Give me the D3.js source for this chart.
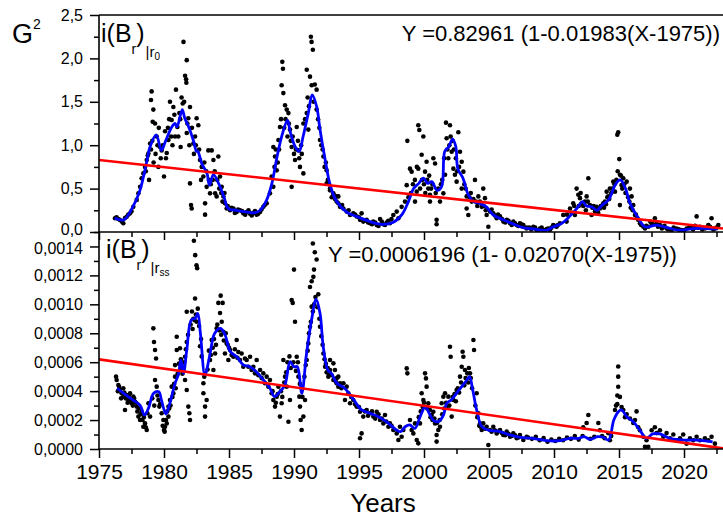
<!DOCTYPE html>
<html>
<head>
<meta charset="utf-8">
<script src="https://cdn.jsdelivr.net/npm/d3@7"></script>
<style>
  html, body { margin: 0; padding: 0; background: #fff; }
  svg { display: block; font-family: "Liberation Sans", Arial, sans-serif; }
</style>
</head>
<body>
<svg id="chart" width="723" height="519"></svg>
<script>
// ---- data: i(Br)|r0 (upper panel) ----
const topDots = [
  [1976.23,0.158],[1976.35,0.17],[1976.49,0.15],[1976.6,0.14],[1976.75,0.12],[1976.87,0.10],[1977.0,0.16],
  [1977.13,0.176],[1977.25,0.2],[1977.39,0.215],[1977.5,0.24],[1977.64,0.29],[1977.9,0.37],[1978.03,0.445],
  [1978.16,0.52],[1978.28,0.62],[1978.41,0.675],[1978.54,0.75],[1978.67,0.83],[1978.8,0.905],[1978.93,1.02],
  [1979.0,1.52],[1979.05,1.62],[1979.13,1.27],[1979.18,1.41],[1979.31,1.25],[1979.44,1.10],[1979.57,0.75],
  [1979.69,0.98],[1979.82,0.94],[1980.0,0.64],[1980.08,1.16],[1980.21,0.91],[1980.34,1.06],[1980.46,1.50],
  [1980.59,1.29],[1980.72,1.44],[1980.85,1.10],[1980.92,1.64],[1981.03,1.21],[1981.18,1.37],[1981.28,0.98],
  [1981.44,1.48],[1981.5,2.19],[1981.62,1.80],[1981.7,1.76],[1981.72,1.72],[1981.75,1.98],[1981.75,1.14],
  [1981.87,1.31],[1982.0,1.44],[1982.08,0.31],[1982.13,0.27],[1982.0,0.56],[1982.26,1.02],[1982.39,1.10],
  [1982.51,1.31],[1982.64,1.23],[1982.77,0.83],[1982.9,0.75],[1983.03,0.64],[1983.16,0.33],[1983.16,0.20],
  [1983.28,0.52],[1983.41,0.94],[1983.54,0.445],[1983.67,0.94],[1983.8,0.83],[1983.93,0.445],[1984.05,0.41],
  [1984.18,0.87],[1984.31,0.64],[1984.44,0.52],[1984.57,0.41],[1984.69,0.33],[1984.82,0.27],[1985.08,0.25],
  [1978.6,0.7],[1978.75,0.88],[1978.85,0.6],[1979.0,0.95],[1979.1,1.05],[1979.2,0.8],[1979.35,0.9],
  [1979.5,1.0],[1979.6,1.2],[1979.75,0.85],[1979.9,1.0],[1980.15,0.85],[1980.3,1.2],[1980.4,1.3],
  [1980.55,1.1],[1980.65,1.0],[1980.8,1.35],[1981.1,1.1],[1981.25,1.3],[1981.35,1.55],[1981.55,1.5],
  [1981.8,1.25],[1981.95,1.0],[1982.15,1.2],[1982.3,0.9],[1982.45,1.0],[1982.7,0.95],[1982.85,0.6],
  [1983.1,0.8],[1983.25,0.7],[1983.45,0.6],[1983.6,0.55],[1983.75,0.6],[1983.9,0.7],[1984.1,0.6],
  [1984.25,0.5],[1984.4,0.45],[1984.5,0.35],[1984.65,0.45],[1984.9,0.3],
  [1985.2,0.28],[1985.34,0.27],[1985.45,0.22],[1985.59,0.23],[1985.7,0.26],[1985.85,0.25],[1986.0,0.24],
  [1986.1,0.215],[1986.25,0.2],[1986.36,0.23],[1986.5,0.25],[1986.62,0.21],[1986.75,0.19],[1986.87,0.22],
  [1987.0,0.24],[1987.13,0.20],[1987.25,0.21],[1987.39,0.23],[1987.5,0.26],[1987.64,0.29],[1987.75,0.31],
  [1987.9,0.33],[1988.15,0.445],[1988.28,0.64],[1988.41,0.52],[1988.41,0.98],[1988.54,0.87],[1988.67,0.71],
  [1988.8,1.06],[1988.92,1.21],[1989.05,1.69],[1989.1,1.96],[1989.15,1.88],[1989.18,1.60],[1989.31,1.46],
  [1989.44,1.41],[1989.57,1.37],[1989.69,1.18],[1989.82,0.98],[1989.82,0.52],[1990.08,0.83],[1990.21,1.21],
  [1990.34,0.94],[1990.46,0.75],[1990.72,0.675],[1990.72,1.25],[1990.98,1.37],[1990.98,1.87],[1991.1,1.18],
  [1991.23,1.79],[1991.3,2.25],[1991.35,2.19],[1991.36,1.69],[1991.45,2.1],[1991.74,1.64],[1991.74,1.41],
  [1992.0,1.06],[1992.26,0.87],[1992.51,0.71],[1992.51,0.56],[1992.77,0.48],[1992.77,0.50],[1993.03,0.445],
  [1988.5,0.75],[1988.6,0.95],[1988.75,0.8],[1988.85,0.95],[1989.0,1.3],[1989.25,1.2],[1989.35,1.3],
  [1989.5,1.1],[1989.6,1.25],[1989.75,1.05],[1989.9,1.1],[1990.0,0.9],[1990.15,0.95],[1990.3,1.05],
  [1990.4,0.85],[1990.55,1.0],[1990.6,0.9],[1990.85,1.3],[1991.05,1.55],[1991.15,1.45],[1991.5,1.5],
  [1991.6,1.7],[1991.85,1.3],[1991.95,1.2],[1992.1,1.0],[1992.2,0.95],[1992.35,0.75],[1992.45,0.8],
  [1992.6,0.6],[1992.7,0.55],[1992.9,0.4],[1993.15,0.38],
  [1993.03,0.43],[1993.28,0.41],[1993.28,0.35],[1993.41,0.33],[1993.41,0.41],[1993.54,0.29],[1993.7,0.31],
  [1993.8,0.27],[1994.05,0.235],[1994.2,0.25],[1994.31,0.196],[1994.56,0.215],[1994.7,0.2],[1994.82,0.18],
  [1995.0,0.17],[1995.08,0.14],[1995.2,0.215],[1995.33,0.12],[1995.45,0.13],[1995.59,0.14],[1995.7,0.11],
  [1995.85,0.10],[1996.0,0.09],[1996.1,0.12],[1996.25,0.11],[1996.36,0.08],[1996.5,0.07],[1996.62,0.15],
  [1996.75,0.12],[1996.87,0.09],[1997.0,0.08],[1997.13,0.11],[1997.25,0.13],[1997.38,0.10],[1997.5,0.15],
  [1997.64,0.196],[1997.9,0.235],[1998.03,0.158],[1998.28,0.29],[1998.54,0.35],[1998.67,0.54],[1998.72,1.05],
  [1998.92,0.73],[1999.05,0.695],[1999.31,0.35],[1999.44,0.465],[1999.56,1.23],[1999.64,1.175],[1999.56,0.73],
  [1999.82,0.89],[1999.95,1.10],[2000.08,0.695],[2000.2,0.81],[2000.33,0.50],[2000.46,0.43],[2000.46,0.35],
  [2000.72,0.85],[2000.85,0.79],[2000.97,0.14],[2000.97,0.09],[2001.23,0.35],[2001.49,0.445],[2001.62,0.66],
  [2001.69,1.26],[2001.74,1.08],[2001.87,0.85],[2002.0,1.23],[2002.13,0.925],[2002.26,0.73],[2002.38,0.66],
  [2002.51,0.58],[2002.64,1.15],[2002.77,0.925],[2002.9,0.81],[2002.9,0.50],[2003.03,0.695],[2003.28,0.41],
  [2003.28,0.27],[2003.41,0.196],[2003.67,0.35],[2003.92,0.60],[2004.18,0.41],[2004.44,0.29],[2004.56,0.50],
  [2004.69,0.39],[2004.82,0.196],[2004.95,0.06],[2005.08,0.235],[2005.2,0.26],[2005.33,0.215],[2005.45,0.19],
  [1998.8,0.4],[1999.0,0.45],[1999.15,0.55],[1999.3,0.6],[1999.45,0.75],[1999.7,0.5],[1999.85,0.6],
  [2000.0,0.55],[2000.1,0.45],[2000.25,0.6],[2000.4,0.65],[2000.55,0.5],[2000.65,0.55],[2000.9,0.45],
  [2001.1,0.5],[2001.3,0.55],[2001.4,0.6],[2001.55,0.85],[2001.8,0.95],[2001.95,1.0],[2002.05,1.1],
  [2002.2,1.05],[2002.3,0.95],[2002.45,0.85],[2002.55,0.7],[2002.7,0.75],[2003.1,0.55],[2003.2,0.5],
  [2003.5,0.4],[2003.6,0.45],[2003.8,0.38],[2004.0,0.35],[2004.1,0.3],[2004.3,0.35],[2004.6,0.3],[2004.75,0.25],
  [2005.59,0.158],[2005.7,0.2],[2005.85,0.18],[2006.0,0.15],[2006.1,0.12],[2006.25,0.11],[2006.36,0.14],
  [2006.5,0.13],[2006.62,0.10],[2006.75,0.08],[2006.87,0.12],[2007.0,0.1],[2007.13,0.08],[2007.25,0.07],
  [2007.38,0.10],[2007.5,0.09],[2007.64,0.06],[2007.64,0.08],[2007.89,0.04],[2007.9,0.05],[2008.1,0.05],
  [2008.25,0.03],[2008.41,0.06],[2008.55,0.05],[2008.66,0.023],[2008.8,0.02],[2008.92,0.04],[2009.05,0.05],
  [2009.17,0.023],[2009.3,0.02],[2009.43,0.035],[2009.55,0.04],[2009.69,0.023],[2009.8,0.05],[2009.94,0.08],
  [2010.05,0.07],[2010.2,0.06],[2010.3,0.08],[2010.46,0.10],[2010.71,0.196],[2010.97,0.12],[2011.23,0.27],
  [2011.48,0.33],[2011.61,0.196],[2011.74,0.50],[2011.87,0.43],[2012.0,0.39],[2012.12,0.33],[2012.38,0.35],
  [2012.51,0.41],[2012.64,0.62],[2012.76,0.31],[2012.89,0.196],[2013.15,0.235],[2013.28,0.29],[2013.53,0.27],
  [2013.79,0.33],[2013.92,0.35],[2014.05,0.465],[2014.17,0.41],[2014.3,0.50],[2014.56,0.58],[2014.69,0.465],
  [2014.87,1.12],[2014.94,1.15],[2015.02,0.84],[2015.07,0.66],[2015.07,0.31],[2015.2,0.54],[2015.33,0.62],
  [2015.59,0.58],[2015.84,0.50],[2015.97,0.41],[2016.1,0.31],[2016.23,0.196],[2016.48,0.14],[2016.61,0.10],
  [2011.0,0.2],[2011.35,0.22],[2011.55,0.3],[2011.9,0.3],[2012.05,0.45],[2012.25,0.3],[2012.45,0.25],
  [2012.6,0.35],[2012.95,0.28],[2013.05,0.3],[2013.4,0.22],[2013.6,0.3],[2013.85,0.28],[2014.0,0.32],
  [2014.1,0.4],[2014.25,0.38],[2014.4,0.45],[2014.5,0.5],[2014.65,0.55],[2014.8,0.6],[2014.9,0.7],
  [2015.15,0.65],[2015.25,0.5],[2015.4,0.55],[2015.5,0.45],[2015.7,0.4],[2015.8,0.35],[2015.9,0.28],
  [2016.05,0.25],[2016.3,0.2],[2016.4,0.16],[2016.7,0.08],
  [2016.87,0.06],[2017.0,0.04],[2017.1,0.07],[2017.25,0.06],[2017.4,0.12],[2017.51,0.10],[2017.6,0.09],
  [2017.76,0.158],[2017.89,0.10],[2018.0,0.06],[2018.15,0.08],[2018.3,0.04],[2018.41,0.06],[2018.5,0.07],
  [2018.66,0.04],[2018.8,0.03],[2019.05,0.023],[2019.2,0.05],[2019.43,0.04],[2019.6,0.03],[2019.82,0.023],
  [2020.0,0.02],[2020.2,0.04],[2020.4,0.05],[2020.58,0.06],[2020.7,0.03],[2020.85,0.07],[2020.97,0.18],
  [2021.1,0.05],[2021.23,0.06],[2021.4,0.03],[2021.61,0.04],[2021.75,0.05],[2021.87,0.08],[2022.0,0.06],
  [2022.12,0.158],[2022.25,0.03],[2022.38,0.04],[2022.5,0.05],[2022.64,0.08]
];
const topSmooth = [
  [1976.2,0.16],[1976.9,0.14],[1977.6,0.29],[1978.15,0.48],[1978.7,0.83],[1978.9,0.97],[1979.4,1.12],
  [1979.8,0.94],[1980.1,1.04],[1980.6,1.21],[1980.85,1.25],[1981.0,1.21],[1981.4,1.41],[1981.6,1.31],
  [1981.9,1.21],[1982.25,1.06],[1982.5,0.93],[1982.6,0.93],[1982.9,0.79],[1983.3,0.68],[1983.5,0.54],
  [1983.8,0.66],[1984.2,0.56],[1984.6,0.41],[1984.95,0.27],[1985.6,0.25],[1986.4,0.23],[1986.9,0.22],
  [1987.4,0.25],[1987.9,0.37],[1988.3,0.56],[1988.7,0.87],[1989.05,1.10],[1989.5,1.29],[1989.7,1.16],
  [1990.1,0.98],[1990.4,0.93],[1990.7,1.10],[1991.1,1.37],[1991.4,1.58],[1991.75,1.44],[1992.0,1.18],
  [1992.4,0.83],[1992.8,0.53],[1993.3,0.35],[1994.05,0.23],[1994.8,0.18],[1995.85,0.12],[1996.6,0.09],
  [1997.6,0.11],[1998.3,0.20],[1998.8,0.35],[1999.2,0.50],[1999.6,0.56],[1999.95,0.62],[2000.3,0.56],
  [2000.6,0.58],[2001.0,0.48],[2001.35,0.52],[2001.6,0.93],[2001.9,0.98],[2002.2,1.07],[2002.45,0.98],
  [2002.6,0.73],[2003.0,0.62],[2003.4,0.43],[2003.8,0.35],[2004.3,0.33],[2004.8,0.29],[2005.3,0.20],
  [2006.1,0.14],[2006.9,0.09],[2007.6,0.05],[2008.4,0.035],[2009.4,0.02],[2009.95,0.06],[2010.6,0.10],
  [2011.2,0.18],[2011.75,0.27],[2012.2,0.35],[2012.5,0.30],[2012.9,0.29],[2013.3,0.25],[2013.7,0.31],
  [2014.2,0.37],[2014.7,0.54],[2015.1,0.60],[2015.5,0.50],[2015.85,0.33],[2016.4,0.18],[2017.0,0.06],
  [2017.9,0.08],[2018.7,0.05],[2019.7,0.02],[2020.7,0.04],[2021.7,0.04],[2022.6,0.035]
];

// ---- data: i(Br)|rss (lower panel) ----
const bottomDots = [
  [1976.31,5.0e-4],[1976.36,4.77e-4],[1976.49,4.42e-4],[1976.62,4.08e-4],[1976.74,3.85e-4],[1976.87,3.62e-4],
  [1976.87,4.2e-4],[1977.0,2.7e-4],[1977.13,3.73e-4],[1977.26,3.39e-4],[1977.39,3.85e-4],[1977.51,3.16e-4],
  [1977.64,3.62e-4],[1977.77,3.27e-4],[1977.9,2.93e-4],[1978.03,2.24e-4],[1978.16,2.0e-4],[1978.28,2.58e-4],
  [1978.41,1.54e-4],[1978.54,1.77e-4],[1978.67,1.31e-4],[1978.72,2.47e-4],[1978.8,3.16e-4],[1978.93,2.24e-4],
  [1976.45,4.0e-4],[1976.55,4.3e-4],[1976.7,3.5e-4],[1976.95,3.9e-4],[1977.05,3.5e-4],[1977.2,3.2e-4],
  [1977.3,3.7e-4],[1977.45,3.3e-4],[1977.6,3.0e-4],[1977.7,3.5e-4],[1977.85,3.2e-4],[1977.95,2.6e-4],
  [1978.1,2.8e-4],[1978.2,2.4e-4],[1978.35,2.0e-4],[1978.45,2.2e-4],[1978.6,1.5e-4],
  [1979.18,8.34e-4],[1979.23,7.4e-4],[1979.31,6.84e-4],[1979.39,6.26e-4],[1979.31,4.77e-4],[1979.44,4.31e-4],
  [1979.57,3.39e-4],[1979.64,2.93e-4],[1979.82,2.47e-4],[1979.95,2.0e-4],[1980.0,1.31e-4],[1980.08,1.54e-4],
  [1980.21,1.77e-4],[1980.34,2.24e-4],[1980.34,2.93e-4],[1980.46,3.39e-4],[1980.59,4.31e-4],[1980.72,3.85e-4],
  [1980.85,5.0e-4],[1980.85,5.8e-4],[1980.98,6.84e-4],[1980.98,7.76e-4],[1981.23,6.96e-4],[1981.36,5.57e-4],
  [1981.49,5.69e-4],[1981.62,6.38e-4],[1981.75,7.4e-4],[1981.62,4.77e-4],[1981.75,4.08e-4],[1981.87,2.93e-4],
  [1981.95,2.47e-4],[1982.0,2.0e-4],[1981.75,9.49e-4],[1982.26,9.0e-4],[1982.39,10.4e-4],[1982.3,14.4e-4],
  [1982.4,13.4e-4],[1982.5,12.7e-4],[1982.55,12.5e-4],[1982.51,8.8e-4],[1982.77,7.1e-4],[1982.9,6.4e-4],
  [1979.1,3.5e-4],[1979.25,3.0e-4],[1979.5,3.7e-4],[1979.7,3.1e-4],[1979.9,1.6e-4],[1980.05,1.2e-4],
  [1980.15,2.0e-4],[1980.25,2.6e-4],[1980.4,2.8e-4],[1980.5,3.0e-4],[1980.65,3.6e-4],[1980.78,4.5e-4],
  [1980.9,4.2e-4],[1981.05,5.2e-4],[1981.15,5.9e-4],[1981.3,6.2e-4],[1981.42,5.2e-4],[1981.55,6.0e-4],
  [1981.68,6.9e-4],[1981.85,7.9e-4],[1982.05,8.6e-4],[1982.15,9.5e-4],[1982.2,8.3e-4],[1982.35,8.9e-4],
  [1982.45,9.3e-4],[1982.6,9.7e-4],[1982.7,8.5e-4],[1982.85,7.6e-4],
  [1983.03,3.85e-4],[1983.16,2.93e-4],[1983.16,2.24e-4],[1983.03,4.54e-4],[1983.28,3.39e-4],[1983.54,6.15e-4],
  [1983.67,7.53e-4],[1983.8,5.46e-4],[1983.93,6.6e-4],[1984.05,8.34e-4],[1984.18,10.1e-4],[1984.36,10.6e-4],
  [1984.51,10.1e-4],[1984.31,9.4e-4],[1984.44,8.8e-4],[1984.57,8.1e-4],[1984.69,6.6e-4],[1984.82,7.3e-4],
  [1984.95,6.15e-4],[1985.08,6.84e-4],[1985.34,6.38e-4],[1985.59,7.53e-4],[1985.72,6.7e-4],[1985.85,6.15e-4],
  [1983.1,5.0e-4],[1983.35,5.5e-4],[1983.45,6.8e-4],[1983.6,6.5e-4],[1983.75,7.0e-4],[1983.85,7.6e-4],
  [1984.0,7.2e-4],[1984.1,8.6e-4],[1984.25,8.2e-4],[1984.4,7.9e-4],[1984.6,7.5e-4],[1984.75,8.0e-4],
  [1984.9,7.2e-4],[1985.0,7.0e-4],[1985.2,6.5e-4],[1985.45,6.9e-4],[1985.65,6.3e-4],
  [1985.97,6.6e-4],[1986.1,5.69e-4],[1986.23,6.26e-4],[1986.36,6.15e-4],[1986.49,5.69e-4],[1986.62,6.38e-4],
  [1986.74,5.46e-4],[1986.87,5.69e-4],[1987.0,5.23e-4],[1987.13,6.15e-4],[1987.26,5.1e-4],[1987.39,5.46e-4],
  [1987.51,4.9e-4],[1987.64,5.23e-4],[1987.77,4.54e-4],[1987.9,5.0e-4],[1988.03,4.31e-4],[1988.15,4.77e-4],
  [1988.28,3.85e-4],[1988.41,3.39e-4],[1988.54,2.93e-4],[1988.67,3.62e-4],[1988.8,4.31e-4],[1988.92,2.24e-4],
  [1989.05,3.16e-4],[1989.18,6.15e-4],[1989.31,5.0e-4],[1989.44,4.31e-4],[1989.57,1.88e-4],[1989.69,3.39e-4],
  [1989.82,10.3e-4],[1989.9,10.1e-4],[1990.0,12.4e-4],[1990.08,8.8e-4],[1990.21,6.38e-4],[1990.34,5.0e-4],
  [1990.41,3.62e-4],[1990.46,2.93e-4],[1990.51,2.0e-4],[1990.59,1.31e-4],[1990.72,2.24e-4],[1990.85,3.39e-4],
  [1990.98,6.15e-4],[1991.1,7.3e-4],[1991.23,8.45e-4],[1991.36,9.84e-4],[1991.23,11.2e-4],[1991.36,11.6e-4],
  [1991.49,11.9e-4],[1991.54,12.4e-4],[1991.74,13.1e-4],[1991.45,14.2e-4],[1991.6,13.6e-4],[1991.87,10.7e-4],
  [1992.0,8.45e-4],[1992.26,6.6e-4],[1992.39,5.69e-4],[1992.51,5.3e-4],[1992.64,5.0e-4],[1992.77,5.46e-4],
  [1988.35,4.0e-4],[1988.6,3.2e-4],[1988.75,3.8e-4],[1989.0,4.0e-4],[1989.1,3.6e-4],[1989.25,4.6e-4],
  [1989.4,5.3e-4],[1989.5,6.0e-4],[1989.65,6.4e-4],[1989.75,5.6e-4],[1989.95,6.0e-4],[1990.15,5.4e-4],
  [1990.3,6.0e-4],[1990.45,4.5e-4],[1990.65,3.6e-4],[1990.8,5.0e-4],[1990.9,5.8e-4],[1991.05,6.8e-4],
  [1991.15,8.0e-4],[1991.3,8.8e-4],[1991.45,9.5e-4],[1991.55,10.0e-4],[1991.65,10.5e-4],[1991.8,9.8e-4],
  [1991.95,9.0e-4],[1992.1,7.8e-4],[1992.2,7.2e-4],[1992.35,6.2e-4],[1992.45,5.9e-4],[1992.6,5.6e-4],
  [1992.7,5.2e-4],[1992.9,5.1e-4],[1993.2,4.7e-4],
  [1992.77,6.15e-4],[1993.03,5.92e-4],[1993.03,4.77e-4],[1993.15,5.46e-4],[1993.28,4.54e-4],[1993.3,4.9e-4],
  [1993.41,5.0e-4],[1993.41,4.31e-4],[1993.54,4.54e-4],[1993.65,4.2e-4],[1993.8,4.54e-4],[1993.92,3.39e-4],
  [1994.05,4.31e-4],[1994.18,3.85e-4],[1994.31,3.16e-4],[1994.4,3.6e-4],[1994.56,3.39e-4],[1994.7,3.1e-4],
  [1994.82,2.93e-4],[1995.0,2.9e-4],[1995.08,2.58e-4],[1995.2,1.08e-4],[1995.08,0.74e-4],[1995.33,2.24e-4],
  [1995.45,2.6e-4],[1995.59,2.7e-4],[1995.7,2.3e-4],[1995.85,2.47e-4],[1996.0,2.6e-4],[1996.1,2.24e-4],
  [1996.25,2.1e-4],[1996.36,2.58e-4],[1996.5,2.4e-4],[1996.62,2.0e-4],[1996.75,2.1e-4],[1996.87,1.77e-4],
  [1997.0,2.35e-4],[1997.1,1.9e-4],[1997.26,1.54e-4],[1997.38,1.77e-4],[1997.5,1.6e-4],[1997.64,1.31e-4],
  [1997.9,1.08e-4],[1998.03,0.62e-4],[1998.15,1.54e-4],[1998.28,0.85e-4],[1998.41,1.31e-4],[1998.67,5.57e-4],
  [1998.72,5.23e-4],[1998.92,2.0e-4],[1999.05,1.31e-4],[1999.18,1.08e-4],[1999.31,1.77e-4],[1999.44,0.62e-4],
  [1999.56,0.39e-4],[1999.69,1.77e-4],[1999.82,3.85e-4],[1999.95,3.39e-4],[2000.08,5.23e-4],[2000.15,4.88e-4],
  [2000.2,4.31e-4],[2000.33,3.16e-4],[2000.46,2.7e-4],[2000.59,2.35e-4],[2000.72,2.58e-4],[2000.85,1.77e-4],
  [2000.97,0.51e-4],[2000.97,0.97e-4],[2001.1,1.31e-4],[2001.23,1.54e-4],[2001.36,3.16e-4],[2001.49,3.62e-4],
  [2001.62,3.85e-4],[2001.74,2.93e-4],[2001.87,3.62e-4],[2002.0,7.07e-4],[2002.05,6.38e-4],[2002.13,2.24e-4],
  [2002.26,3.39e-4],[2002.51,4.08e-4],[2002.77,5.0e-4],[2002.97,6.72e-4],[2003.03,6.38e-4],[2002.9,5.69e-4],
  [2003.15,5.46e-4],[2003.33,5.23e-4],[2003.54,5.23e-4],[2003.8,7.53e-4],[2003.85,6.84e-4],[2004.05,3.85e-4],
  [2004.18,2.47e-4],[2004.31,1.77e-4],[2004.44,1.31e-4],[2004.56,1.77e-4],[2004.82,1.54e-4],[2004.95,0.28e-4],
  [1999.6,2.2e-4],[1999.75,2.6e-4],[1999.9,2.9e-4],[2000.0,3.2e-4],[2000.25,2.8e-4],[2000.5,2.2e-4],
  [2000.65,2.0e-4],[2000.8,2.1e-4],[2001.0,1.8e-4],[2001.2,2.0e-4],[2001.4,2.4e-4],[2001.55,2.8e-4],
  [2001.7,3.2e-4],[2001.95,3.0e-4],[2002.2,3.6e-4],[2002.35,3.8e-4],[2002.45,3.3e-4],[2002.6,4.2e-4],
  [2002.7,3.9e-4],[2002.85,4.6e-4],[2003.1,4.4e-4],[2003.2,4.9e-4],[2003.4,4.6e-4],[2003.45,5.6e-4],
  [2003.6,4.9e-4],[2003.7,4.2e-4],[2003.95,3.0e-4],[2004.1,2.2e-4],[2004.25,1.6e-4],[2004.4,1.5e-4],[2004.7,1.4e-4],
  [2005.08,1.31e-4],[2005.2,1.2e-4],[2005.33,1.54e-4],[2005.45,1.3e-4],[2005.59,1.08e-4],[2005.7,1.2e-4],
  [2005.85,1.31e-4],[2006.0,1.1e-4],[2006.1,0.97e-4],[2006.25,0.95e-4],[2006.36,1.2e-4],[2006.5,1.05e-4],
  [2006.62,0.85e-4],[2006.75,0.9e-4],[2006.87,1.08e-4],[2007.0,0.95e-4],[2007.13,0.74e-4],[2007.25,0.8e-4],
  [2007.38,0.97e-4],[2007.64,0.62e-4],[2007.9,0.85e-4],[2008.0,0.8e-4],[2008.3,0.7e-4],[2008.6,0.85e-4],
  [2008.9,0.6e-4],[2009.2,0.75e-4],[2009.5,0.5e-4],[2009.8,0.65e-4],[2010.1,0.55e-4],[2010.4,0.7e-4],
  [2010.7,0.6e-4],[2011.0,0.8e-4],[2011.3,0.7e-4],[2011.6,0.9e-4],[2011.9,0.65e-4],[2012.2,0.9e-4],
  [2012.25,1.5e-4],[2012.51,1.8e-4],[2012.64,2.35e-4],[2012.8,0.7e-4],[2013.1,0.85e-4],[2013.41,1.8e-4],
  [2013.53,1.3e-4],[2013.7,0.9e-4],[2013.9,0.75e-4],[2014.17,1.1e-4],[2014.3,0.6e-4],[2014.4,0.9e-4],
  [2014.69,2.7e-4],[2014.77,3.0e-4],[2014.87,3.7e-4],[2014.87,3.1e-4],[2014.94,4.3e-4],[2014.94,5.0e-4],
  [2014.94,5.7e-4],[2015.07,3.6e-4],[2015.2,2.9e-4],[2015.33,2.7e-4],[2015.46,2.2e-4],[2015.59,2.4e-4],
  [2015.84,2.1e-4],[2016.1,1.8e-4],[2016.23,2.0e-4],[2016.35,2.6e-4],[2016.48,1.5e-4],[2016.61,1.3e-4],
  [2016.87,0.85e-4],[2017.0,0.15e-4],[2017.12,0.6e-4],[2017.25,0.15e-4],[2017.51,1.3e-4],[2017.76,1.5e-4],
  [2017.89,1.1e-4],[2018.15,1.3e-4],[2018.41,0.85e-4],[2018.66,1.1e-4],[2018.92,0.74e-4],[2019.18,1.0e-4],
  [2019.43,0.6e-4],[2019.69,0.74e-4],[2019.94,1.0e-4],[2020.2,0.37e-4],[2020.46,0.74e-4],[2020.71,0.6e-4],
  [2020.97,0.85e-4],[2021.23,0.6e-4],[2021.61,0.74e-4],[2021.87,0.6e-4],[2022.12,0.85e-4],[2022.38,0.37e-4]
];
const bottomSmooth = [
  [1976.4,4.2e-4],[1976.9,3.85e-4],[1977.6,3.39e-4],[1978.15,3.04e-4],[1978.5,2.35e-4],[1978.8,2.81e-4],
  [1979.2,3.85e-4],[1979.6,3.96e-4],[1979.8,3.39e-4],[1980.15,2.42e-4],[1980.45,3.16e-4],[1980.85,4.54e-4],
  [1981.1,5.12e-4],[1981.3,6.15e-4],[1981.5,5.23e-4],[1981.75,6.84e-4],[1982.1,8.92e-4],[1982.4,9.03e-4],
  [1982.6,9.38e-4],[1982.8,8.0e-4],[1983.15,5.12e-4],[1983.5,6.38e-4],[1983.9,8.0e-4],[1984.35,8.34e-4],
  [1984.7,7.88e-4],[1985.1,6.73e-4],[1985.6,6.38e-4],[1986.1,5.81e-4],[1986.6,5.69e-4],[1987.1,5.34e-4],
  [1987.65,4.77e-4],[1988.15,4.2e-4],[1988.5,3.62e-4],[1988.9,3.96e-4],[1989.3,4.42e-4],[1989.7,6.03e-4],
  [1990.0,5.69e-4],[1990.25,5.69e-4],[1990.6,3.85e-4],[1990.95,6.5e-4],[1991.35,8.92e-4],[1991.7,10.35e-4],
  [1992.0,9.38e-4],[1992.25,7.07e-4],[1992.6,5.46e-4],[1992.9,5.2e-4],[1993.3,4.54e-4],[1993.9,4.2e-4],
  [1994.6,3.39e-4],[1995.2,2.7e-4],[1995.85,2.47e-4],[1996.5,2.23e-4],[1997.1,1.89e-4],[1997.9,1.31e-4],
  [1998.2,1.2e-4],[1998.55,1.54e-4],[1998.9,1.66e-4],[1999.3,1.43e-4],[1999.7,2.23e-4],[2000.1,2.92e-4],
  [2000.4,2.47e-4],[2000.7,2.0e-4],[2001.1,1.89e-4],[2001.5,2.35e-4],[2001.75,3.16e-4],[2002.1,3.39e-4],
  [2002.5,3.85e-4],[2002.9,4.31e-4],[2003.3,4.77e-4],[2003.5,5.0e-4],[2003.75,4.08e-4],[2004.05,2.7e-4],
  [2004.45,1.54e-4],[2004.95,1.31e-4],[2005.85,1.2e-4],[2006.6,0.97e-4],[2007.4,0.8e-4],[2008.4,0.74e-4],
  [2009.4,0.58e-4],[2010.5,0.58e-4],[2011.2,0.74e-4],[2011.9,0.74e-4],[2012.3,0.85e-4],[2012.8,0.67e-4],
  [2013.35,0.85e-4],[2013.8,0.81e-4],[2014.2,0.62e-4],[2014.6,2.0e-4],[2014.95,2.58e-4],[2015.2,2.7e-4],
  [2015.6,2.23e-4],[2016.1,1.89e-4],[2016.6,1.31e-4],[2017.1,0.74e-4],[2017.6,1.04e-4],[2018.15,1.04e-4],
  [2018.9,0.74e-4],[2019.95,0.62e-4],[2020.95,0.62e-4],[2022.2,0.5e-4]
];

// linear trend fits, Y = a (1 - b (X - 1975))
const topFit = [0.82961, 0.01983];
const bottomFit = [0.0006196, 0.02070];
const fitYears = [1975, 2023];

// axis ticks
const xMajor = [1975, 1980, 1985, 1990, 1995, 2000, 2005, 2010, 2015, 2020];
const xMinor = [1977.5, 1982.5, 1987.5, 1992.5, 1997.5, 2002.5, 2007.5, 2012.5, 2017.5, 2022.5];
const topMajor = [0, 0.5, 1.0, 1.5, 2.0, 2.5];
const topMinor = [0.25, 0.75, 1.25, 1.75, 2.25];
const bottomMajor = [0, 0.0002, 0.0004, 0.0006, 0.0008, 0.0010, 0.0012, 0.0014];
const bottomMinor = [0.0001, 0.0003, 0.0005, 0.0007, 0.0009, 0.0011, 0.0013, 0.0015];

// ---- layout ----
const svg = d3.select("#chart");
const plotL = 99, plotR = 723, plotT = 15, plotM = 232, plotB = 449;

const x = d3.scaleLinear().domain([1975, 2023]).range([plotL, plotR]);
const yTop = d3.scaleLinear().domain([0, 2.5]).range([plotM, plotT]);
const yBot = d3.scaleLinear().domain([0, 0.0015]).range([plotB, plotM]);

const locale = d3.formatLocale({decimal: ",", thousands: ".", grouping: [3], currency: ["", ""]});
const fmtTop = locale.format(".1f");
const fmtBot = locale.format(".4f");

const defs = svg.append("defs");
defs.append("clipPath").attr("id", "clipTop")
  .append("rect").attr("x", plotL).attr("y", plotT).attr("width", plotR - plotL).attr("height", plotM - plotT);
defs.append("clipPath").attr("id", "clipBot")
  .append("rect").attr("x", plotL).attr("y", plotM).attr("width", plotR - plotL).attr("height", plotB - plotM);

function drawPanel(dots, smooth, fit, yScale, clipId) {
  const g = svg.append("g").attr("clip-path", `url(#${clipId})`);
  g.selectAll("circle").data(dots).enter().append("circle")
    .attr("cx", d => x(d[0])).attr("cy", d => yScale(d[1]))
    .attr("r", 2.3).attr("fill", "#000");
  const line = d3.line().x(d => x(d[0])).y(d => yScale(d[1])).curve(d3.curveCatmullRom.alpha(0.5));
  g.append("path").datum(smooth).attr("d", line)
    .attr("fill", "none").attr("stroke", "#0000ff").attr("stroke-width", 2.8)
    .attr("stroke-linejoin", "round");
  const fitLine = fitYears.map(yr => [yr, fit[0] * (1 - fit[1] * (yr - 1975))]);
  g.append("path").datum(fitLine).attr("d", d3.line().x(d => x(d[0])).y(d => yScale(d[1])))
    .attr("fill", "none").attr("stroke", "#ff0000").attr("stroke-width", 2.6);
}
drawPanel(topDots, topSmooth, topFit, yTop, "clipTop");
drawPanel(bottomDots, bottomSmooth, bottomFit, yBot, "clipBot");

// ---- axes ----
function styleAxis(g, fontSize) {
  g.select(".domain").remove();
  g.selectAll(".tick line").attr("stroke", "#000").attr("stroke-width", 1.5);
  g.selectAll(".tick text").attr("fill", "#000").style("font-size", fontSize + "px")
    .style("font-family", "'Liberation Sans', Arial, sans-serif");
}

// left axes
svg.append("g").attr("transform", `translate(${plotL},0)`)
  .call(d3.axisLeft(yTop).tickValues(topMajor).tickSize(9).tickPadding(7).tickFormat(fmtTop))
  .call(g => styleAxis(g, 16))
  .call(g => g.selectAll(".tick text").filter(d => d === 0).attr("y", -3));
svg.append("g").attr("transform", `translate(${plotL},0)`)
  .call(d3.axisLeft(yTop).tickValues(topMinor).tickSize(5).tickFormat(""))
  .call(g => styleAxis(g, 16));
svg.append("g").attr("transform", `translate(${plotL},0)`)
  .call(d3.axisLeft(yBot).tickValues(bottomMajor).tickSize(9).tickPadding(7).tickFormat(fmtBot))
  .call(g => styleAxis(g, 16))
  .call(g => g.selectAll(".tick text").filter(d => d === 0.0014).attr("y", 1.5));
svg.append("g").attr("transform", `translate(${plotL},0)`)
  .call(d3.axisLeft(yBot).tickValues(bottomMinor).tickSize(5).tickFormat(""))
  .call(g => styleAxis(g, 16));

// x axis between the panels (ticks only)
svg.append("g").attr("transform", `translate(0,${plotM})`)
  .call(d3.axisBottom(x).tickValues(xMajor).tickSize(8).tickFormat(""))
  .call(g => styleAxis(g, 21));
svg.append("g").attr("transform", `translate(0,${plotM})`)
  .call(d3.axisBottom(x).tickValues(xMinor).tickSize(5).tickFormat(""))
  .call(g => styleAxis(g, 21));

// bottom x axis with year labels
svg.append("g").attr("transform", `translate(0,${plotB})`)
  .call(d3.axisBottom(x).tickValues(xMajor).tickSize(9).tickPadding(6).tickFormat(d3.format("d")))
  .call(g => styleAxis(g, 21));
svg.append("g").attr("transform", `translate(0,${plotB})`)
  .call(d3.axisBottom(x).tickValues(xMinor).tickSize(5).tickFormat(""))
  .call(g => styleAxis(g, 21));

// frame lines
const frame = svg.append("g").attr("stroke", "#000").attr("stroke-width", 1.6).attr("fill", "none");
frame.append("line").attr("x1", plotL).attr("x2", plotL).attr("y1", plotT).attr("y2", plotB);
frame.append("line").attr("x1", plotL).attr("x2", plotR).attr("y1", plotT).attr("y2", plotT);
frame.append("line").attr("x1", plotL).attr("x2", plotR).attr("y1", plotM).attr("y2", plotM);
frame.append("line").attr("x1", plotL).attr("x2", plotR).attr("y1", plotB).attr("y2", plotB);

// ---- text ----
const txt = svg.append("g").attr("fill", "#000");

// y-axis title G²
const gT = txt.append("text").attr("x", 12).attr("y", 43).style("font-size", "27px");
gT.append("tspan").text("G");
gT.append("tspan").attr("dy", -14).style("font-size", "14px").text("2");

// x-axis title
txt.append("text").attr("x", 383).attr("y", 512).attr("text-anchor", "middle")
  .style("font-size", "26px").text("Years");

// panel labels
function panelLabel(px, py, sub) {
  const t = txt.append("text").attr("x", px).attr("y", py).style("font-size", "25px");
  t.append("tspan").text("i(B");
  t.append("tspan").attr("dy", 12).style("font-size", "14px").text("r");
  t.append("tspan").attr("dy", -12).text(")");
  t.append("tspan").attr("dy", 15).attr("dx", 1).style("font-size", "15px").text("|r");
  t.append("tspan").attr("dy", 3).style("font-size", "10px").text(sub);
}
panelLabel(101, 42, "0");
panelLabel(106, 258, "ss");

// fit equations
txt.append("text").attr("x", 720).attr("y", 41).attr("text-anchor", "end")
  .style("font-size", "22px").text("Y =0.82961 (1-0.01983(X-1975))");
txt.append("text").attr("x", 328).attr("y", 262)
  .style("font-size", "22px").text("Y =0.0006196 (1- 0.02070(X-1975))");
</script>
</body>
</html>
